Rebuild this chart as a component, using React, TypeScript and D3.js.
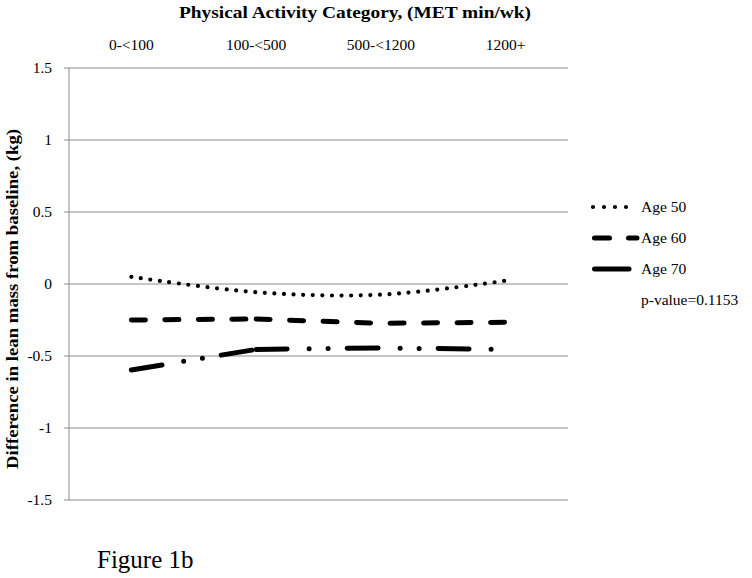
import React, { useRef, useEffect } from "react";
import * as d3 from "d3";

const categories = ["0-<100", "100-<500", "500-<1200", "1200+"];
const age50 = [0.05, -0.057, -0.074, 0.023];
const age60 = [-0.25, -0.243, -0.273, -0.266];
const age70 = [-0.597, -0.454, -0.444, -0.454];
const yTicks = [1.5, 1, 0.5, 0, -0.5, -1, -1.5];

// groups = index ranges drawn as separate paths (dash pattern restarts at each group)
const seriesList = [
  { name: "Age 50", values: age50, dash: "0,9.6", width: 4.2, smooth: true, groups: [[0, 3]] },
  { name: "Age 60", values: age60, dash: "14,19.5", width: 5, smooth: false, groups: [[0, 1], [1, 3]] },
  { name: "Age 70", values: age70, dash: "31,22,0,19,0,19", width: 5, smooth: false, groups: [[0, 1], [1, 3]] },
];

const FONT = "'Liberation Serif', 'Times New Roman', serif";

export default function App() {
  const svgRef = useRef<SVGSVGElement>(null);

  useEffect(() => {
    if (!svgRef.current) return;
    const svg = d3.select(svgRef.current);
    svg.selectAll("*").remove();

    const width = 752;
    const height = 578;
    const margin = { top: 68, right: 184, bottom: 78, left: 69 };
    const innerWidth = width - margin.left - margin.right;
    const innerHeight = height - margin.top - margin.bottom;

    const x = d3.scaleBand().domain(categories).range([0, innerWidth]);
    const y = d3.scaleLinear().domain([-1.5, 1.5]).range([innerHeight, 0]);
    const cx = (i: number) => x(categories[i])! + x.bandwidth() / 2;

    const g = svg
      .append("g")
      .attr("transform", `translate(${margin.left},${margin.top})`);

    // grid + y ticks
    g.selectAll(".grid")
      .data(yTicks)
      .enter()
      .append("line")
      .attr("x1", -5)
      .attr("x2", innerWidth)
      .attr("y1", (d) => y(d))
      .attr("y2", (d) => y(d))
      .attr("stroke", "#8c8c8c")
      .attr("stroke-width", 1);

    g.append("line")
      .attr("x1", 0)
      .attr("x2", 0)
      .attr("y1", 0)
      .attr("y2", innerHeight)
      .attr("stroke", "#8c8c8c")
      .attr("stroke-width", 1);

    g.selectAll(".ytick")
      .data(yTicks)
      .enter()
      .append("text")
      .attr("x", -17)
      .attr("y", (d) => y(d) + 5)
      .attr("text-anchor", "end")
      .style("font-family", FONT)
      .style("font-size", "15.5px")
      .text((d) => String(d));

    // category labels on top
    g.selectAll(".xtick")
      .data(categories)
      .enter()
      .append("text")
      .attr("x", (d, i) => cx(i))
      .attr("y", -18)
      .attr("text-anchor", "middle")
      .style("font-family", FONT)
      .style("font-size", "15.5px")
      .text((d) => d);

    // axis titles
    svg
      .append("text")
      .attr("x", 355)
      .attr("y", 18)
      .attr("text-anchor", "middle")
      .attr("textLength", 352)
      .attr("lengthAdjust", "spacingAndGlyphs")
      .style("font-family", FONT)
      .style("font-size", "16.5px")
      .style("font-weight", "bold")
      .text("Physical Activity Category, (MET min/wk)");

    svg
      .append("text")
      .attr("transform", "translate(18,299) rotate(-90)")
      .attr("text-anchor", "middle")
      .attr("textLength", 340)
      .attr("lengthAdjust", "spacingAndGlyphs")
      .style("font-family", FONT)
      .style("font-size", "16.5px")
      .style("font-weight", "bold")
      .text("Difference in lean mass from baseline, (kg)");

    // series
    seriesList.forEach((s) => {
      const line = d3
        .line<number>()
        .x((d, i, arr) => cx((arr as any).__offset + i))
        .y((d) => y(d))
        .curve(s.smooth ? d3.curveCatmullRom.alpha(0.5) : d3.curveLinear);
      s.groups.forEach(([a, b]) => {
        const part: any = s.values.slice(a, b + 1);
        part.__offset = a;
        g.append("path")
          .datum(part)
          .attr("fill", "none")
          .attr("stroke", "#000")
          .attr("stroke-width", s.width)
          .attr("stroke-linecap", "round")
          .attr("stroke-dasharray", s.dash)
          .attr("d", line(part));
      });
    });

    // legend
    const legend = svg.append("g").attr("transform", "translate(592,207)");
    seriesList.forEach((s, i) => {
      const item = legend.append("g").attr("transform", `translate(0,${i * 31})`);
      item
        .append("line")
        .attr("x1", i === 0 ? 1 : 2.5)
        .attr("x2", i === 2 ? 37 : 45)
        .attr("y1", 0)
        .attr("y2", 0)
        .attr("stroke", "#000")
        .attr("stroke-width", s.width)
        .attr("stroke-linecap", "round")
        .attr("stroke-dasharray", i === 0 ? "0,11" : i === 1 ? "15,19" : "none");
      item
        .append("text")
        .attr("x", 49)
        .attr("y", 5)
        .style("font-family", FONT)
        .style("font-size", "15.5px")
        .text(s.name);
    });
    legend
      .append("text")
      .attr("x", 49)
      .attr("y", 98)
      .style("font-family", FONT)
      .style("font-size", "15.5px")
      .text("p-value=0.1153");

    svg
      .append("text")
      .attr("x", 97)
      .attr("y", 568)
      .style("font-family", FONT)
      .style("font-size", "25px")
      .text("Figure 1b");
  }, []);

  return (
    <div style={{ position: "absolute", left: 0, top: 0 }}>
      <svg ref={svgRef} width={752} height={578} style={{ display: "block", background: "#fff" }} />
    </div>
  );
}
